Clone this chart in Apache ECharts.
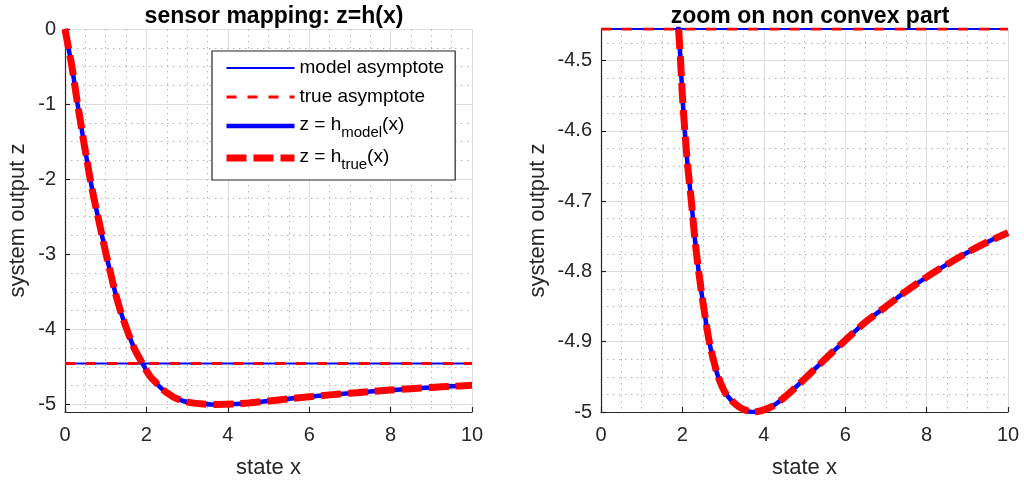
<!DOCTYPE html>
<html>
<head>
<meta charset="utf-8">
<script src="https://cdn.jsdelivr.net/npm/echarts@6/dist/echarts.min.js"></script>
<style>
html,body{margin:0;padding:0;background:#fff;}
#chart{width:1024px;height:484px;}
</style>
</head>
<body>
<div id="chart"></div>
<script>
// ---- data ----
const xState = [0, 0.085, 0.17, 0.24, 0.31, 0.385, 0.46, 0.54, 0.62, 0.71, 0.81, 0.91, 1.01, 1.12, 1.23, 1.36, 1.52, 1.70, 1.905, 1.955, 2.00, 2.06, 2.13, 2.22, 2.30, 2.40, 2.52, 2.66, 2.76, 2.88, 3.08, 3.40, 3.74, 4.14, 4.51, 5.0, 5.5, 6.0, 6.5, 7.0, 7.5, 8.0, 8.5, 9.0, 9.5, 10];
const zModel = [0, -0.25, -0.5, -0.75, -1.0, -1.25, -1.5, -1.75, -2.0, -2.25, -2.5, -2.75, -3.0, -3.25, -3.5, -3.75, -4.0, -4.25, -4.455, -4.5, -4.55, -4.6, -4.65, -4.7, -4.75, -4.8, -4.85, -4.9, -4.925, -4.95, -4.975, -4.993, -5.0, -4.994, -4.979, -4.953, -4.925, -4.898, -4.872, -4.85, -4.828, -4.808, -4.79, -4.773, -4.758, -4.745];
const zTrue  = [0, -0.25, -0.5, -0.75, -1.0, -1.25, -1.5, -1.75, -2.0, -2.25, -2.5, -2.75, -3.0, -3.25, -3.5, -3.75, -4.0, -4.25, -4.455, -4.5, -4.55, -4.6, -4.65, -4.7, -4.75, -4.8, -4.85, -4.9, -4.925, -4.95, -4.975, -4.993, -5.0, -4.994, -4.979, -4.953, -4.925, -4.898, -4.872, -4.85, -4.828, -4.808, -4.79, -4.773, -4.758, -4.745];
const asymX = [0, 10];
const asymModel = -4.455;
const asymTrue = -4.455;
const titles = ['sensor mapping: z=h(x)', 'zoom on non convex part'];
const seriesNames = ['model asymptote', 'true asymptote', 'z = h_model(x)', 'z = h_true(x)'];
const xName = 'state x';
const yName = 'system output z';
const leftY = [-5.1, 0];
const rightY = [-5, asymModel];

// ---- chart ----
const FONT = '"Liberation Sans", Arial, Helvetica, sans-serif';
const INK = '#262626';
const chart = echarts.init(document.getElementById('chart'), null, {renderer: 'canvas'});

const curveModel = xState.map((x, i) => [x, zModel[i]]);
const curveTrue = xState.map((x, i) => [x, zTrue[i]]);
const lineModel = asymX.map(x => [x, asymModel]);
const lineTrue = asymX.map(x => [x, asymTrue]);

function xAxisFor(gi) {
  return {
    type: 'value', gridIndex: gi, min: 0, max: 10, splitNumber: 5,
    minInterval: 2, maxInterval: 2,
    name: xName, nameLocation: 'middle', nameGap: 45,
    nameTextStyle: {fontSize: 22, color: INK, fontFamily: FONT},
    axisLine: {show: true, onZero: false, lineStyle: {color: INK, width: 1.2}},
    axisTick: {show: true, inside: true, length: 5, lineStyle: {color: INK, width: 1.2}},
    axisLabel: {fontSize: 20, color: INK, fontFamily: FONT, margin: 13},
    splitLine: {show: true, lineStyle: {color: '#dedede', width: 1}},
    minorTick: {show: false, splitNumber: 4},
    minorSplitLine: {show: true, lineStyle: {color: '#b4b4b4', width: 1, type: [1.5, 4.5]}}
  };
}
function yAxisFor(gi, ext, gap, maj) {
  return {
    type: 'value', gridIndex: gi, min: ext[0], max: ext[1], splitNumber: 5,
    minInterval: maj, maxInterval: maj,
    name: yName, nameLocation: 'middle', nameGap: gap,
    nameTextStyle: {fontSize: 22, color: INK, fontFamily: FONT},
    axisLine: {show: true, onZero: false, lineStyle: {color: INK, width: 1.2}},
    axisTick: {show: true, inside: true, length: 5, lineStyle: {color: INK, width: 1.2}},
    axisLabel: {fontSize: 20, color: INK, fontFamily: FONT, margin: 9,
      showMinLabel: gi === 0 ? false : true, showMaxLabel: gi === 1 ? false : true},
    splitLine: {show: true, lineStyle: {color: '#dedede', width: 1}},
    minorTick: {show: false, splitNumber: 4},
    minorSplitLine: {show: true, lineStyle: {color: '#b4b4b4', width: 1, type: [1.5, 4.5]}}
  };
}

function seriesFor(gi) {
  return [
    {name: seriesNames[0], type: 'line', xAxisIndex: gi, yAxisIndex: gi, data: lineModel,
     symbol: 'none', lineStyle: {color: '#0000ff', width: 2}, itemStyle: {color: '#0000ff'}, z: 2},
    {name: seriesNames[1], type: 'line', xAxisIndex: gi, yAxisIndex: gi, data: lineTrue,
     symbol: 'none', lineStyle: {color: '#ff0000', width: 3, type: [10, 11]}, itemStyle: {color: '#ff0000'}, z: 3},
    {name: seriesNames[2], type: 'line', xAxisIndex: gi, yAxisIndex: gi, data: curveModel,
     symbol: 'none', smooth: 0.3, lineStyle: {color: '#0000ff', width: 4.5}, itemStyle: {color: '#0000ff'}, z: 4},
    {name: seriesNames[3], type: 'line', xAxisIndex: gi, yAxisIndex: gi, data: curveTrue,
     symbol: 'none', smooth: 0.3, lineStyle: {color: '#ff0000', width: 7, type: [20, 7]}, itemStyle: {color: '#ff0000'}, z: 5}
  ];
}

const option = {
  animation: false,
  backgroundColor: '#ffffff',
  textStyle: {fontFamily: FONT},
  title: [
    {text: titles[0], left: 269, top: 0, textAlign: 'center',
     textStyle: {fontSize: 23, fontWeight: 'bold', color: '#000', fontFamily: FONT}},
    {text: titles[1], left: 805, top: 0, textAlign: 'center',
     textStyle: {fontSize: 23, fontWeight: 'bold', color: '#000', fontFamily: FONT}}
  ],
  grid: [
    {left: 65, top: 29, width: 407, height: 383, containLabel: false, outerBoundsMode: 'none'},
    {left: 601, top: 29, width: 407, height: 383, containLabel: false, outerBoundsMode: 'none'}
  ],
  legend: {
    orient: 'vertical', left: 212, top: 51,
    padding: [6, 11, 8, 11], itemGap: 7, itemWidth: 68, itemHeight: 10,
    backgroundColor: '#ffffff', borderColor: INK, borderWidth: 1.2, borderRadius: 0,
    selectedMode: false,
    itemStyle: {opacity: 0, borderWidth: 0},
    lineStyle: {width: 'inherit', type: 'inherit', opacity: 1},
    data: seriesNames,
    textStyle: {
      fontSize: 19, color: '#000', fontFamily: FONT, lineHeight: 22,
      rich: {
        m: {fontSize: 19, color: '#000', fontFamily: FONT, lineHeight: 22, verticalAlign: 'top'},
        s: {fontSize: 15, color: '#000', fontFamily: FONT, lineHeight: 15, padding: [10, 0, 0, 0], verticalAlign: 'top'}
      }
    },
    formatter: function (name) {
      const m = name.match(/^z = h_(\w+)\(x\)$/);
      if (m) return '{m|z = h}{s|' + m[1] + '}{m|(x)}';
      return name;
    }
  },
  xAxis: [xAxisFor(0), xAxisFor(1)],
  yAxis: [yAxisFor(0, leftY, 36, 1), yAxisFor(1, rightY, 52, 0.1)],
  series: seriesFor(0).concat(seriesFor(1))
};
chart.setOption(option);
</script>
</body>
</html>
